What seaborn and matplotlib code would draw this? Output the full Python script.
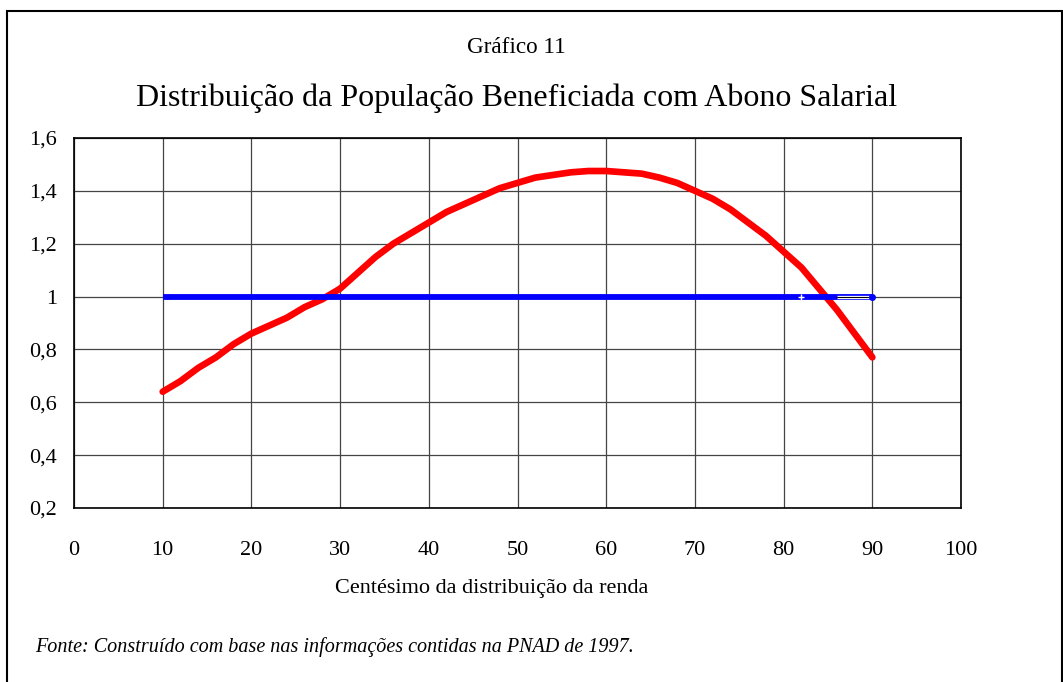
import matplotlib

matplotlib.use("Agg")
import matplotlib.pyplot as plt
import numpy as np
import pandas as pd
import seaborn as sns
from matplotlib.patches import Rectangle

# dados
centesimo = [10, 12, 14, 16, 18, 20, 22, 24, 26, 28, 30, 32, 34, 36, 38, 40,
             42, 44, 46, 48, 50, 52, 54, 56, 58, 60, 62, 64, 66, 68, 70, 72,
             74, 76, 78, 80, 82, 84, 86, 88, 90]
beneficiados = [0.64, 0.68, 0.73, 0.77, 0.82, 0.86, 0.89, 0.92, 0.96, 0.99,
                1.03, 1.09, 1.15, 1.20, 1.24, 1.28, 1.32, 1.35, 1.38, 1.41,
                1.43, 1.45, 1.46, 1.47, 1.475, 1.475, 1.47, 1.465, 1.45, 1.43,
                1.40, 1.37, 1.33, 1.28, 1.23, 1.17, 1.11, 1.03, 0.95, 0.86, 0.77]
referencia_x = [10, 90]
referencia_y = [1, 1]
vazio_x = [86, 90]
vazio_y = [1, 1]
yticks = [0.2, 0.4, 0.6, 0.8, 1.0, 1.2, 1.4, 1.6]
ytick_labels = ["0,2", "0,4", "0,6", "0,8", "1", "1,2", "1,4", "1,6"]

sns.set_style("white")
plt.rcParams["font.family"] = ["Liberation Serif", "DejaVu Serif"]
plt.rcParams["text.color"] = "black"

fig = plt.figure(figsize=(10.63, 6.82), dpi=100)
ax = fig.add_axes([0.0696, 0.2551, 0.8345, 0.5426])

df = pd.DataFrame({"x": centesimo, "y": beneficiados})
sns.lineplot(data=df, x="x", y="y", color="#ff0000", linewidth=4.8, ax=ax, zorder=3)

ax.plot(referencia_x, referencia_y, color="#0000ff", linewidth=4.2,
        solid_capstyle="butt", zorder=4)
ax.plot(vazio_x, vazio_y, color="white", linewidth=2.4,
        solid_capstyle="butt", zorder=5)
ax.plot(vazio_x, vazio_y, color="black", linewidth=0.8, zorder=6)
ax.plot([90], [1], marker="o", color="#0000ff", markersize=4, zorder=7)
ax.plot([82], [1], marker="+", color="white", markersize=4, mew=1, zorder=7)

ax.set_xlim(0, 100)
ax.set_ylim(0.2, 1.6)
ax.set_xticks(np.arange(0, 101, 10))
ax.set_yticks(yticks)
ax.set_yticklabels(ytick_labels)
ax.grid(True, color="#444444", linewidth=0.9)
for s in ax.spines.values():
    s.set_color("black")
    s.set_linewidth(1.2)
ax.tick_params(axis="both", direction="out", length=5, width=1, colors="black",
               labelsize=16)
ax.tick_params(axis="x", pad=19)
ax.tick_params(axis="y", pad=7)
ax.set_xlabel("")
ax.set_ylabel("")

fig.text(0.486, 0.930, "Gráfico 11", ha="center", va="center", fontsize=16.7)
fig.text(0.486, 0.856, "Distribuição da População Beneficiada com Abono Salarial",
         ha="center", va="center", fontsize=23)
fig.text(0.463, 0.137, "Centésimo da distribuição da renda", ha="center",
         va="center", fontsize=16)
fig.text(0.033, 0.051, "Fonte: Construído com base nas informações contidas na PNAD de 1997.",
         ha="left", va="center", fontsize=14.5, style="italic")

fig.patches.append(Rectangle((0.0066, -0.01), 0.992, 0.994, transform=fig.transFigure,
                             fill=False, edgecolor="black", linewidth=1.5))

fig.savefig("out.png", dpi=100)
